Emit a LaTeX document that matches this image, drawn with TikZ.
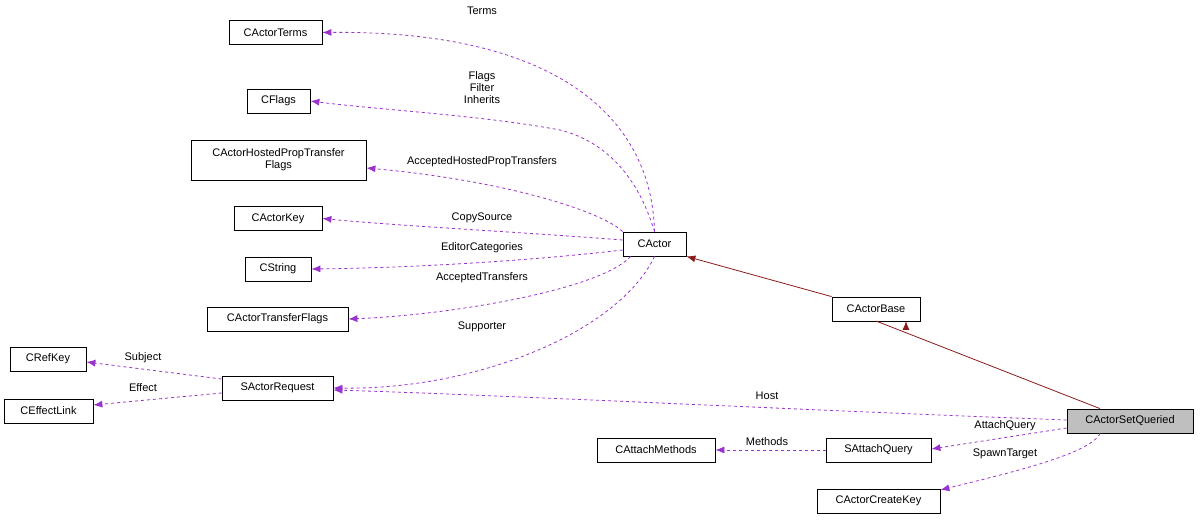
\documentclass[tikz,border=0pt]{standalone}
\usepackage{fontspec}
\setmainfont{Liberation Sans}
\usetikzlibrary{arrows.meta}
\definecolor{mem}{HTML}{9A32CD}
\definecolor{inh}{HTML}{8B1A1A}
\begin{document}
\begin{tikzpicture}[x=1pt,y=-1pt,
  box/.style={draw,thick,rectangle,inner sep=0pt,minimum height=24pt,font=\fontsize{11}{12}\selectfont,align=center},
  lab/.style={font=\fontsize{11}{12}\selectfont,align=center,inner sep=1pt},
  dep/.style={mem,dashed,thick,-{Latex[length=9pt,width=7pt]}},
  inhe/.style={inh,thick,-{Latex[length=9pt,width=7pt]}}]
\useasboundingbox (0,0) rectangle (1200,521);
\node[box,minimum width=93pt] (terms) at (275.5,32.5) {CActorTerms};
\node[box,minimum width=63pt] (flags) at (278.5,101) {CFlags};
\node[box,minimum width=175pt,minimum height=40pt] (hosted) at (278.5,160) {CActorHostedPropTransfer\\Flags};
\node[box,minimum width=88pt] (key) at (278,218.5) {CActorKey};
\node[box,minimum width=66pt] (str) at (278,269) {CString};
\node[box,minimum width=141pt] (tf) at (277.5,319) {CActorTransferFlags};
\node[box,minimum width=76pt] (ref) at (48,359) {CRefKey};
\node[box,minimum width=89pt] (eff) at (48.5,411) {CEffectLink};
\node[box,minimum width=111pt] (req) at (277.5,388) {SActorRequest};
\node[box,minimum width=63pt] (actor) at (654.5,244) {CActor};
\node[box,minimum width=88pt] (base) at (876,309) {CActorBase};
\node[box,minimum width=126pt,fill=black!25] (sq) at (1130,421) {CActorSetQueried};
\node[box,minimum width=118pt] (am) at (656,450) {CAttachMethods};
\node[box,minimum width=105pt] (aq) at (878.5,450) {SAttachQuery};
\node[box,minimum width=123pt] (ck) at (878.5,501) {CActorCreateKey};

\draw[dep] (actor.north) .. controls (652,120) and (560,30) .. (terms.east);
\node[lab] at (482,11) {Terms};
\draw[dep] (actor.north) .. controls (636,170) and (600,140) .. (560,130) .. controls (480,115) and (380,110) .. (flags.east);
\node[lab] at (482,88) {Flags\\Filter\\Inherits};
\draw[dep] (actor.north west) .. controls (600,210) and (500,180) .. (hosted.east |- 0,168);
\node[lab] at (482,162) {AcceptedHostedPropTransfers};
\draw[dep] (actor.west) ++(0,-4) .. controls (520,232) and (400,226) .. (key.east);
\node[lab] at (482,218) {CopySource};
\draw[dep] (actor.west) ++(0,6) .. controls (520,262) and (400,268) .. (str.east);
\node[lab] at (482,248) {EditorCategories};
\draw[dep] (actor.south west) ++(8,0) .. controls (600,290) and (450,315) .. (tf.east);
\node[lab] at (482,278) {AcceptedTransfers};
\draw[dep] (actor.south) .. controls (620,330) and (480,390) .. (req.east);
\node[lab] at (482,327) {Supporter};
\draw[dep] (req.west |- 0,379) -- (ref.east |- 0,362);
\node[lab] at (143,358) {Subject};
\draw[dep] (req.west |- 0,393) -- (eff.east |- 0,405);
\node[lab] at (143,388) {Effect};
\draw[dep] (sq.west |- 0,420) .. controls (800,410) and (500,395) .. (req.east |- 0,390);
\node[lab] at (767,396) {Host};
\draw[dep] (sq.west |- 0,428) -- (aq.east |- 0,449);
\node[lab] at (1005,426) {AttachQuery};
\draw[dep] (aq.west) -- (am.east);
\node[lab] at (767,442) {Methods};
\draw[dep] (sq.south) ++(-30,0) .. controls (1090,455) and (1000,475) .. (ck.east |- 0,490);
\node[lab] at (1005,454) {SpawnTarget};
\draw[inhe] (base.north west) -- (actor.south east);
\draw[inhe] (sq.north) ++(-30,0) -- (base.south |- 0,321) ++(30,0);
\end{tikzpicture}
\end{document}
